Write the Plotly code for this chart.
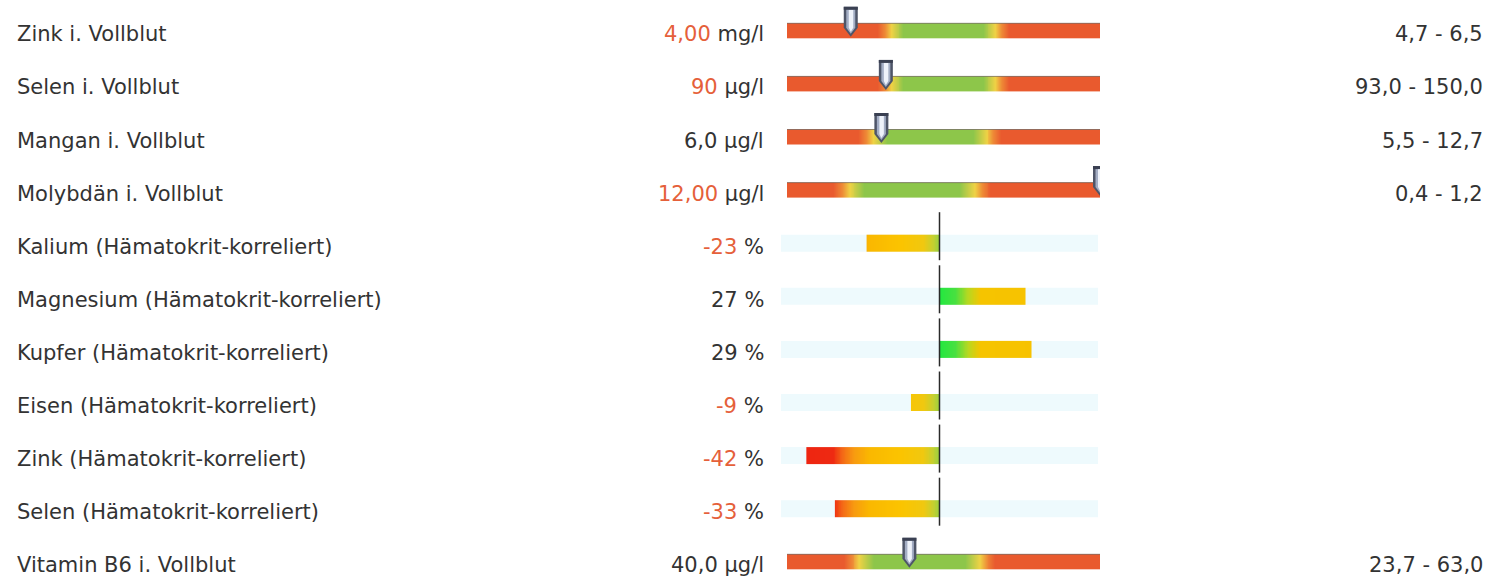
import numpy as np
import plotly.graph_objects as go

# ---------------- data ----------------
labels = [
    "Zink i. Vollblut",
    "Selen i. Vollblut",
    "Mangan i. Vollblut",
    "Molybdän i. Vollblut",
    "Kalium (Hämatokrit-korreliert)",
    "Magnesium (Hämatokrit-korreliert)",
    "Kupfer (Hämatokrit-korreliert)",
    "Eisen (Hämatokrit-korreliert)",
    "Zink (Hämatokrit-korreliert)",
    "Selen (Hämatokrit-korreliert)",
    "Vitamin B6 i. Vollblut",
]
values = [4.00, 90, 6.0, 12.00, -23, 27, 29, -9, -42, -33, 40.0]
value_text = ["4,00", "90", "6,0", "12,00", "-23", "27", "29", "-9", "-42", "-33", "40,0"]
units = ["mg/l", "µg/l", "µg/l", "µg/l", "%", "%", "%", "%", "%", "%", "µg/l"]
ref_low = [4.7, 93.0, 5.5, 0.4, None, None, None, None, None, None, 23.7]
ref_high = [6.5, 150.0, 12.7, 1.2, None, None, None, None, None, None, 63.0]
pct_limits = [-50, 50]

# ---------------- layout constants ----------------
W, H = 1492, 587
DOM_RANGE = [787 / W, 1100 / W]
DOM_PCT = [781 / W, 1098 / W]
ROW0, PITCH = 30.8, 53.1
YRANGE = [(H - ROW0) / PITCH, -ROW0 / PITCH]
RANGE_BAR_H = 15 / PITCH
PCT_BAR_H = 17 / PITCH
TEXT_SHIFT = -3.5

TEXT_DARK = "#333333"
TEXT_RED = "#e5603a"
FONT = "DejaVu Sans"
FSIZE = 21

BAR_RED = "#e95a2e"
BAR_ORANGE = "#ee8a36"
BAR_YELLOW = "#efd245"
BAR_GREEN = "#8dc64a"

fig = go.Figure()

ZMIN, ZMAX = -3.0, 4.0
def tz(z):
    return (z - ZMIN) / (ZMAX - ZMIN)
range_cs = [
    [0.0, BAR_RED], [tz(-0.13), BAR_RED], [tz(-0.06), BAR_ORANGE], [tz(0.0), BAR_YELLOW],
    [tz(0.12), BAR_GREEN], [tz(0.88), BAR_GREEN], [tz(1.0), BAR_YELLOW],
    [tz(1.06), BAR_ORANGE], [tz(1.13), BAR_RED], [1.0, BAR_RED],
]

def tp(v):
    return (v + 50) / 100.0
pct_cs = [
    [0.0, "#ee2010"], [tp(-33.5), "#ee2a12"], [tp(-30.5), "#f46a16"], [tp(-27), "#f89a10"],
    [tp(-22), "#fab800"], [tp(-12), "#fbc400"], [tp(-5), "#f0c810"], [tp(-2), "#c4d030"],
    [tp(-0.01), "#98d040"],
    [tp(0.0), "#22e840"], [tp(5), "#48e040"], [tp(9), "#b8d820"], [tp(13), "#f6c400"],
    [1.0, "#f8c000"],
]

layout_axes = {}
layout_axes["xaxis"] = dict(domain=DOM_PCT, range=pct_limits, visible=False, fixedrange=True)
layout_axes["yaxis"] = dict(domain=[0, 1], range=YRANGE, visible=False, fixedrange=True)

shapes = []
annotations = []


def pin(ax, pos, i):
    common = dict(type="path", xref=ax, yref="y", xsizemode="pixel", ysizemode="pixel",
                  xanchor=pos, yanchor=i, line=dict(width=0), layer="above")
    return [
        dict(common, path="M -7,24 L 7,24 L 7,3 L 0,-6 L -7,3 Z", fillcolor="#4e5568"),
        dict(common, path="M -4.5,22 L 4.5,22 L 4.5,3 L 0,-3 L -4.5,3 Z", fillcolor="#a3adc4"),
        dict(common, path="M -2,21 L 2.5,21 L 2.5,3 L 0,-1 L -2,3 Z", fillcolor="#eef2fa"),
        dict(common, path="M -7,24 L 7,24 L 7,21 L -7,21 Z", fillcolor="#3a4052"),
    ]


axis_n = 2
for i, lab in enumerate(labels):
    v = values[i]
    lo, hi = ref_low[i], ref_high[i]
    if lo is not None:
        w = hi - lo
        bmin = max(0.0, lo - w)
        bmax = hi + w
        ax = f"x{axis_n}"
        axdef = dict(domain=DOM_RANGE, range=[bmin, bmax], visible=False, anchor="y",
                     fixedrange=True)
        if axis_n > 2:
            axdef["overlaying"] = "x2"
        layout_axes[f"xaxis{axis_n}"] = axdef
        axis_n += 1
        edges = np.linspace(bmin, bmax, 321)
        centers = (edges[:-1] + edges[1:]) / 2
        z = (centers - lo) / w
        fig.add_trace(go.Heatmap(
            x=edges, y=[i - RANGE_BAR_H / 2, i + RANGE_BAR_H / 2], z=[z],
            xaxis=ax, yaxis="y", colorscale=range_cs, zmin=ZMIN, zmax=ZMAX,
            showscale=False, hoverinfo="skip"))
        shapes.append(dict(type="line", xref=ax, yref="y", x0=bmin, x1=bmax,
                           y0=i - RANGE_BAR_H / 2, y1=i - RANGE_BAR_H / 2,
                           line=dict(color="rgba(70,55,45,0.55)", width=1), layer="above"))
        pos = min(max(v, bmin), bmax)
        shapes.extend(pin(ax, pos, i))
        red = v < lo or v > hi
        rng_txt = f"{lo:.1f}".replace(".", ",") + " - " + f"{hi:.1f}".replace(".", ",")
        annotations.append(dict(xref="paper", yref="y", x=1485 / W, y=i, xanchor="right",
                                yanchor="middle", yshift=TEXT_SHIFT, showarrow=False, text=rng_txt,
                                font=dict(family=FONT, size=FSIZE, color=TEXT_DARK)))
    else:
        shapes.append(dict(type="rect", xref="x", yref="y", x0=pct_limits[0], x1=pct_limits[1],
                           y0=i - PCT_BAR_H / 2, y1=i + PCT_BAR_H / 2,
                           fillcolor="#eefafd", line=dict(width=0), layer="below"))
        edges = np.linspace(min(0, v), max(0, v), 161)
        centers = (edges[:-1] + edges[1:]) / 2
        fig.add_trace(go.Heatmap(
            x=edges, y=[i - PCT_BAR_H / 2, i + PCT_BAR_H / 2], z=[centers],
            xaxis="x", yaxis="y", colorscale=pct_cs, zmin=pct_limits[0], zmax=pct_limits[1],
            showscale=False, hoverinfo="skip"))
        shapes.append(dict(type="line", xref="x", yref="y", x0=0, x1=0,
                           y0=i - 31 / PITCH, y1=i + 17 / PITCH,
                           line=dict(color="#2a2a2a", width=1.5), layer="above"))
        red = v < 0
    num_color = TEXT_RED if red else TEXT_DARK
    annotations.append(dict(xref="paper", yref="y", x=15 / W, y=i, xanchor="left",
                            yanchor="middle", yshift=TEXT_SHIFT, showarrow=False, text=lab,
                            font=dict(family=FONT, size=FSIZE, color=TEXT_DARK)))
    annotations.append(dict(xref="paper", yref="y", x=766 / W, y=i, xanchor="right",
                            yanchor="middle", yshift=TEXT_SHIFT, showarrow=False,
                            text=f"<span style='color:{num_color}'>{value_text[i]}</span> {units[i]}",
                            font=dict(family=FONT, size=FSIZE, color=TEXT_DARK)))

fig.update_layout(
    width=W, height=H,
    margin=dict(l=0, r=0, t=0, b=0),
    paper_bgcolor="white", plot_bgcolor="rgba(0,0,0,0)",
    showlegend=False,
    shapes=shapes, annotations=annotations,
    **layout_axes,
)

fig.write_html("out.html", config={"displayModeBar": False},
               post_script="document.body.style.margin='0';document.body.style.overflow='hidden';")
